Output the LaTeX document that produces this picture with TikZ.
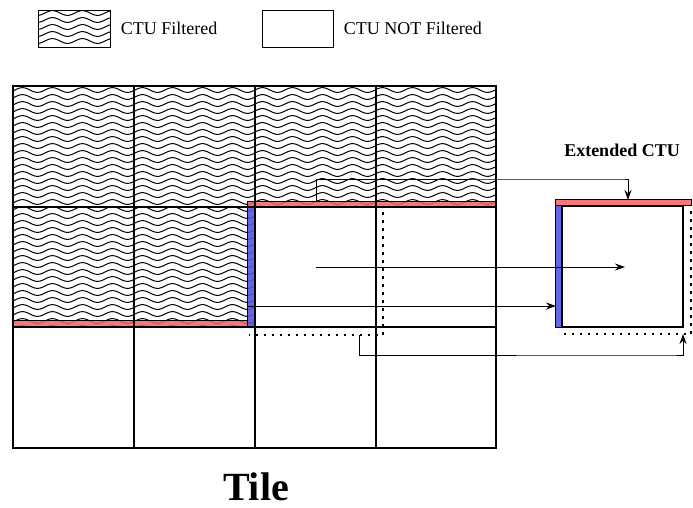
\documentclass[tikz,border=0pt]{standalone}
\usepackage{fontspec}
\setmainfont{Liberation Serif}
\usepackage{tikz}
\usetikzlibrary{arrows.meta,positioning,calc}

\definecolor{ctured}{RGB}{245,95,95}
\definecolor{ctublue}{RGB}{85,85,225}

\begin{document}
\begin{tikzpicture}[
x=1pt,y=-1pt,
grid/.style={line width=2.8pt},
wave/.style={line width=1pt},
redbar/.style={draw=black,line width=0.5pt,fill=ctured,fill opacity=0.85},
bluebar/.style={draw=black,line width=0.5pt,fill=ctublue,fill opacity=0.9},
ctubox/.style={draw,line width=1.3pt,minimum width=121pt,minimum height=121pt,inner sep=0pt},
dots/.style={line width=2.5pt,dash pattern=on 2.5pt off 5.5pt},
arr/.style={-{Stealth[length=10pt,width=7pt]},line width=0.9pt},
lbl/.style={font=\fontsize{18}{20}\selectfont}]
\useasboundingbox (0,0) rectangle (693,507);
% legend
\begin{scope}
\clip (38,10) rectangle (110,47);
\foreach \yy in {13,20,...,47}
  \draw[wave] plot[domain=30:120,samples=40,smooth] (\x,{\yy+2.4*sin(12*\x)});
\end{scope}
\node[draw,line width=0.8pt,minimum width=72pt,minimum height=37pt,inner sep=0pt] (keyf) at (74,28.5) {};
\node[lbl,right=7pt of keyf] (keyftxt) {CTU Filtered};
\node[draw,line width=0.8pt,minimum width=71pt,minimum height=37pt,inner sep=0pt] (keyn) at (297.5,28.5) {};
\node[lbl,right=7pt of keyn] (keyntxt) {CTU NOT Filtered};
% filtered CTUs of the tile
\begin{scope}
\clip (13,86) rectangle (496,207) (13,207) rectangle (255,327);
\foreach \yy in {90,97,...,330}
  \draw[wave] plot[domain=5:500,samples=200,smooth] (\x,{\yy+2.4*sin(12*\x)});
\end{scope}
\draw[redbar] (13,320) rectangle (247,327);
\draw[redbar] (247,201) rectangle (495,207);
\draw[bluebar] (247,207) rectangle (254,327);
% tile grid
\draw[grid] (13,86) rectangle (496,448);
\foreach \x in {134,255,376} \draw[grid] (\x,86) -- (\x,448);
\foreach \y in {207,327} \draw[grid] (13,\y) -- (496,\y);
\node[ctubox,draw=none] (cur) at (315.5,267) {};
\draw[dots] (383,212) -- (383,335) -- (249,335);
\node[font=\bfseries\fontsize{40}{44}\selectfont,anchor=base,inner sep=1pt] (tile) at (256,500) {Tile};
% extended CTU
\node[ctubox] (ext) at (622.5,266.5) {};
\draw[redbar] (ext.north west) ++(-6,-6) coordinate (rtl) rectangle ($(ext.north east)+(8,0)$);
\draw[bluebar] (rtl |- ext.north) rectangle (ext.south west);
\draw[dots] (691,211) -- (691,334) -- (558,334);
\node[lbl,font=\bfseries\fontsize{18}{20}\selectfont] (extlbl) at (622,150) {Extended CTU};
% arrows
\coordinate (a1) at (316,201);
\coordinate (a1e) at (628,200);
\draw[arr] (a1) |- (622,179) -| (a1e);
\draw[arr] (cur.center) -- (625,267);
\coordinate (a3) at (247,306);
\coordinate (a3e) at (556,306);
\draw[arr] (a3) -- (a3e);
\coordinate (a4) at (359,335);
\coordinate (a4e) at (683,334);
\draw[arr] (a4) |- (670,355) -| (a4e);
\end{tikzpicture}
\end{document}
